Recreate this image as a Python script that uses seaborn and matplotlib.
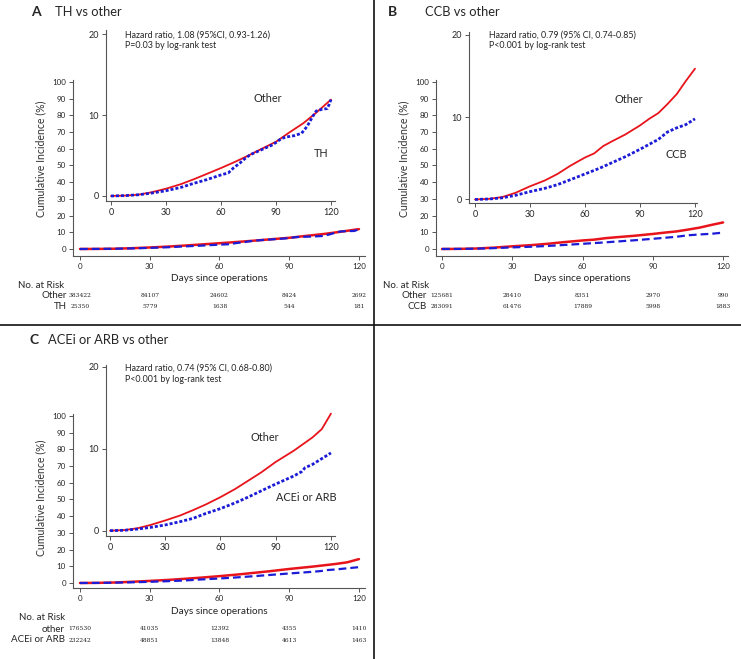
import matplotlib
matplotlib.use("Agg")
import matplotlib.pyplot as plt
import matplotlib.transforms as mtransforms
from matplotlib.lines import Line2D
import seaborn as sns
import pandas as pd

# ---- data ----
# panel A: TH vs other
a_other_days = [0, 8, 15, 22, 30, 38, 45, 52, 60, 68, 75, 82, 90, 97, 105, 112, 120]
a_other_inc = [0, 0.05, 0.16, 0.45, 0.9, 1.45, 2.05, 2.7, 3.45, 4.25, 5.0, 5.8, 6.7, 7.8, 9.0, 10.3, 11.9]
a_th_days = [0, 8, 15, 22, 30, 38, 45, 52, 60, 64, 67, 70, 73, 76, 80, 84, 88, 90, 93, 96,
             100, 104, 107, 110, 112, 115, 118, 119, 120]
a_th_inc = [0, 0.05, 0.15, 0.35, 0.65, 1.05, 1.55, 2.0, 2.6, 2.85, 3.5, 4.0, 4.6, 5.1, 5.5, 5.9,
            6.3, 6.6, 7.1, 7.3, 7.45, 7.75, 8.6, 9.8, 10.5, 10.7, 10.8, 11.3, 11.9]

# panel B: CCB vs other
b_other_days = [0, 8, 15, 22, 30, 38, 45, 52, 60, 65, 70, 75, 82, 90, 95, 100, 105, 110, 115, 120]
b_other_inc = [0, 0.08, 0.3, 0.8, 1.6, 2.3, 3.1, 4.1, 5.1, 5.6, 6.5, 7.1, 7.9, 9.0, 9.8, 10.5,
               11.6, 12.8, 14.4, 15.9]
b_ccb_days = [0, 8, 15, 22, 30, 38, 45, 52, 60, 68, 75, 82, 90, 95, 100, 105, 110, 115, 120]
b_ccb_inc = [0, 0.06, 0.2, 0.5, 0.95, 1.35, 1.8, 2.4, 3.1, 3.8, 4.5, 5.2, 6.1, 6.7, 7.3, 8.2,
             8.7, 9.1, 9.8]

# panel C: ACEi or ARB vs other
c_other_days = [0, 8, 15, 22, 30, 38, 45, 52, 60, 68, 75, 82, 90, 95, 100, 105, 110, 115, 120]
c_other_inc = [0, 0.08, 0.3, 0.7, 1.25, 1.85, 2.5, 3.2, 4.1, 5.1, 6.1, 7.1, 8.4, 9.1, 9.8,
               10.6, 11.4, 12.4, 14.3]
c_acei_days = [0, 8, 15, 22, 30, 38, 45, 52, 60, 68, 75, 82, 90, 95, 100, 104, 106, 110, 115, 120]
c_acei_inc = [0, 0.05, 0.2, 0.4, 0.7, 1.1, 1.5, 2.1, 2.7, 3.4, 4.1, 4.85, 5.7, 6.2, 6.7, 7.2,
              7.7, 8.1, 8.8, 9.5]

risk_days = [0, 30, 60, 90, 120]
a_risk_other = ["383422", "84107", "24602", "8424", "2692"]
a_risk_th = ["25350", "5779", "1638", "544", "181"]
b_risk_other = ["125681", "28410", "8351", "2970", "990"]
b_risk_ccb = ["283091", "61476", "17889", "5998", "1883"]
c_risk_other = ["176530", "41035", "12392", "4355", "1410"]
c_risk_acei = ["232242", "48851", "13848", "4613", "1463"]

RED = "#e8141c"
BLUE = "#1c1cd6"
AXC = "#555555"
W, H = 741, 659

sns.set_style("ticks")
plt.rcParams["font.family"] = ["Lato", "DejaVu Sans"]


def box(l, t, r, b):
    # pixel box -> figure fraction rect
    return [l / W, 1 - b / H, (r - l) / W, (b - t) / H]


def fy(py):
    return 1 - py / H


def style_axes(ax, xlim, ylim, yticks, fs):
    ax.set_xlim(*xlim)
    ax.set_ylim(*ylim)
    ax.set_xticks(risk_days)
    ax.set_yticks(yticks)
    ax.set_facecolor("none")
    sns.despine(ax=ax)
    for s in ["left", "bottom"]:
        ax.spines[s].set_color(AXC)
        ax.spines[s].set_linewidth(0.8)
    ax.tick_params(labelsize=fs, length=3, width=0.7, color=AXC, pad=2)
    ax.set_xlabel("")
    ax.set_ylabel("")


def draw_panel(fig, letter, title, title_xy, other, drug, main_box, main_lim, inset_box, inset_lim,
               stats, stats_xy, labels, label_pos, risk, risk_labels, risk_y, risk_lab_x,
               header_xy, header_ha, ylab_pos, xlab_y):
    df_o = pd.DataFrame({"day": other[0], "inc": other[1]})
    df_d = pd.DataFrame({"day": drug[0], "inc": drug[1]})

    # main axes (0-100 scale)
    ax = fig.add_axes(box(*main_box))
    sns.lineplot(data=df_o, x="day", y="inc", ax=ax, color=RED, lw=1.8)
    sns.lineplot(data=df_d, x="day", y="inc", ax=ax, color=BLUE, lw=1.6,
                 linestyle=(0, (3.5, 1.8)))
    style_axes(ax, main_lim[0], main_lim[1], list(range(0, 101, 10)), 5.8)
    ax.set_ylabel("Cumulative Incidence (%)", fontsize=7.6, color="#333333")
    ax.yaxis.set_label_coords(ylab_pos[0], ylab_pos[1])
    ax.set_xlabel("Days since operations", fontsize=7.2, color="#222222")
    ax.xaxis.set_label_coords(0.5, xlab_y)

    # zoomed inset (0-20 scale)
    ins = fig.add_axes(box(*inset_box))
    sns.lineplot(data=df_o, x="day", y="inc", ax=ins, color=RED, lw=1.3)
    sns.lineplot(data=df_d, x="day", y="inc", ax=ins, color=BLUE, lw=2.0,
                 linestyle=(0, (1.1, 0.7)))
    style_axes(ins, inset_lim[0], inset_lim[1], [0, 10, 20], 6.5)
    ins.text(label_pos[0][0], label_pos[0][1], labels[0], fontsize=7.8, ha="center", va="center")
    ins.text(label_pos[1][0], label_pos[1][1], labels[1], fontsize=7.8, ha="center", va="center")

    # titles and stats text
    fig.text(title_xy[0] / W, fy(title_xy[1]), letter, fontsize=10, fontweight="bold",
             va="center", ha="left")
    fig.text(title_xy[2] / W, fy(title_xy[1]), title, fontsize=9.3, va="center", ha="left")
    fig.text(stats_xy[0] / W, fy(stats_xy[1]), stats[0], fontsize=6.4, va="center")
    fig.text(stats_xy[0] / W, fy(stats_xy[1] + 11), stats[1], fontsize=6.4, va="center")

    # number at risk table
    trans = mtransforms.blended_transform_factory(ax.transData, fig.transFigure)
    fig.text(header_xy[0] / W, fy(header_xy[1]), "No. at Risk", fontsize=7, va="center",
             ha=header_ha)
    for row, lab, py in zip(risk, risk_labels, risk_y):
        fig.text(risk_lab_x / W, fy(py), lab, fontsize=7.0, va="center", ha="right")
        for d, n in zip(risk_days, row):
            ax.text(d, fy(py), n, transform=trans, fontsize=4.3, ha="center", va="center",
                    family="DejaVu Serif", color="#222222")


fig = plt.figure(figsize=(W / 100, H / 100), dpi=100)

draw_panel(fig, "A", "TH vs other", (31, 12, 55), (a_other_days, a_other_inc), (a_th_days, a_th_inc),
           (73, 80, 365, 256), ((-3.0, 122.6), (-4.2, 101.2)),
           (106, 30, 335, 201), ((-2.7, 122.2), (-0.62, 20.5)),
           ("Hazard ratio, 1.08 (95%CI, 0.93-1.26)", "P=0.03 by log-rank test"), (125, 35),
           ("Other", "TH"), ((85.6, 12.0), (114.6, 5.3)),
           (a_risk_other, a_risk_th), ("Other", "TH"), (296, 307), 67,
           (18, 285), "left", (-0.09, 0.55), -0.105)

draw_panel(fig, "B", "CCB vs other", (388, 12, 425), (b_other_days, b_other_inc), (b_ccb_days, b_ccb_inc),
           (436, 80, 728, 256), ((-2.55, 122.1), (-4.2, 101.2)),
           (469, 32, 697, 203), ((-3.27, 121.1), (-0.43, 20.36)),
           ("Hazard ratio, 0.79 (95% CI, 0.74-0.85)", "P<0.001 by log-rank test"), (489, 35),
           ("Other", "CCB"), ((84.0, 12.2), (109.6, 5.5)),
           (b_risk_other, b_risk_ccb), ("Other", "CCB"), (296, 307), 427,
           (383, 285), "left", (-0.09, 0.55), -0.105)

draw_panel(fig, "C", "ACEi or ARB vs other", (30, 340, 48), (c_other_days, c_other_inc),
           (c_acei_days, c_acei_inc),
           (73, 414, 365, 588), ((-3.0, 122.6), (-3.0, 101.2)),
           (106, 365, 335, 536), ((-2.2, 122.2), (-0.65, 20.24)),
           ("Hazard ratio, 0.74 (95% CI, 0.68-0.80)", "P<0.001 by log-rank test"), (125, 368),
           ("Other", "ACEi or ARB"), ((84.0, 11.4), (106.4, 4.0)),
           (c_risk_other, c_risk_acei), ("other", "ACEi or ARB"), (629, 640), 65,
           (65, 618), "right", (-0.09, 0.52), -0.11)

# panel separators
fig.add_artist(Line2D([0, 1], [fy(325), fy(325)], color="#111111", lw=1.2,
                      transform=fig.transFigure))
fig.add_artist(Line2D([374 / W, 374 / W], [0, 1], color="#111111", lw=1.2,
                      transform=fig.transFigure))

fig.savefig("out.png", dpi=100)
